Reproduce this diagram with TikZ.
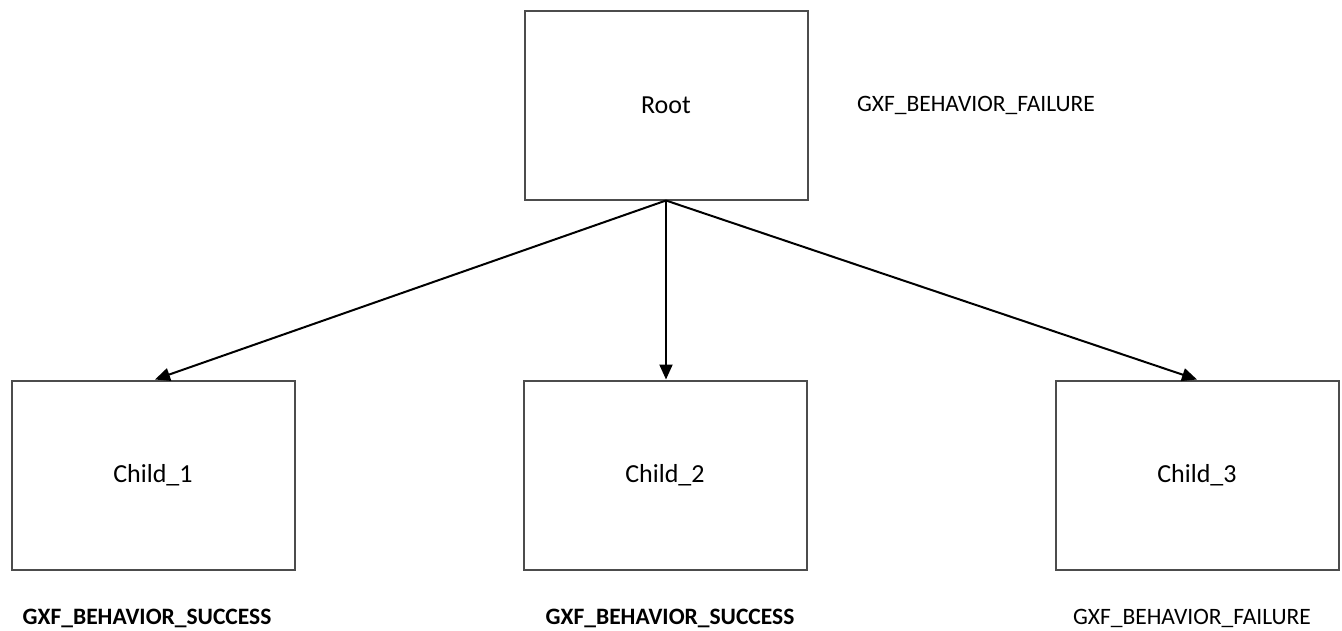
\documentclass[tikz,border=0pt]{standalone}
\usepackage{fontspec}
\setmainfont{Carlito}
\usetikzlibrary{arrows.meta}
\begin{document}
\begin{tikzpicture}[x=1pt,y=-1pt,
  box/.style={draw=black!70,line width=2pt,minimum width=283pt,minimum height=189pt,inner sep=0pt,font=\fontsize{26}{30}\selectfont},
  lbl/.style={font=\fontsize{23.5}{27}\selectfont,inner sep=0pt},
  conn/.style={line width=2pt,-{Triangle[length=15pt,width=13pt]}}]
\useasboundingbox (0,0) rectangle (1342,630);
\node[box] (root) at (666,105) {Root};
\node[box] (c1) at (153,475) {Child\_1};
\node[box] (c2) at (665,475) {Child\_2};
\node[box] (c3) at (1197,475) {Child\_3};
\node[lbl,anchor=base] (l0) at (976,111) {GXF\_BEHAVIOR\_FAILURE};
\node[lbl,anchor=base,font=\fontsize{23.5}{27}\selectfont\bfseries] (l1) at (147,624) {GXF\_BEHAVIOR\_SUCCESS};
\node[lbl,anchor=base,font=\fontsize{23.5}{27}\selectfont\bfseries] (l2) at (670,624) {GXF\_BEHAVIOR\_SUCCESS};
\node[lbl,anchor=base] (l3) at (1192,624) {GXF\_BEHAVIOR\_FAILURE};
\coordinate (rb) at (root.south);
\draw[conn] (rb) -- ([xshift=2pt]c1.north);
\draw[conn] (rb) -- (c2.north -| rb);
\draw[conn] (rb) -- (c3.north);
\end{tikzpicture}
\end{document}
